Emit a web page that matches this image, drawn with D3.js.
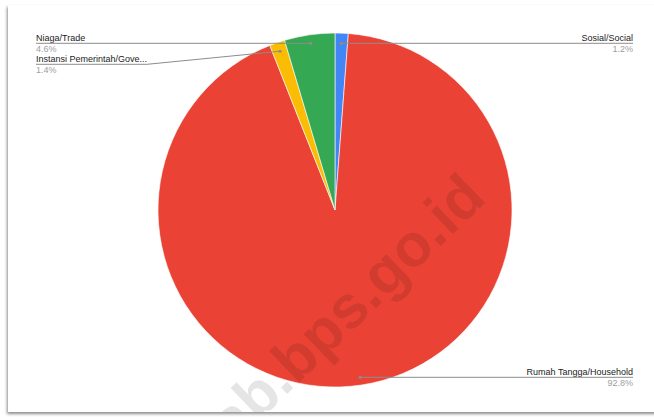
<!DOCTYPE html>
<html>
<head>
<meta charset="utf-8">
<script src="https://cdn.jsdelivr.net/npm/d3@7"></script>
<style>
  html, body { margin: 0; padding: 0; background: #fff; }
  svg { display: block; }
</style>
</head>
<body>
<div id="chart"></div>
<script>
// Données (ordre d'origine, sens horaire depuis midi)
const categories = ['Sosial/Social', 'Rumah Tangga/Household', 'Instansi Pemerintah/Gove...', 'Niaga/Trade'];
const values = [1.2, 92.8, 1.4, 4.6];
const valueLabels = ['1.2%', '92.8%', '1.4%', '4.6%'];
const colors = ['#4285f4', '#ea4335', '#fbbc04', '#34a853'];
// côté de la légende pour chaque part
const sides = ['right', 'right', 'left', 'left'];

const width = 654, height = 417;
const cx = 335, cy = 210, radius = 177;

const svg = d3.select('#chart').append('svg')
    .attr('width', width)
    .attr('height', height);

// Cadre avec ombre
const defs = svg.append('defs');
const shadow = defs.append('filter')
    .attr('id', 'shadow')
    .attr('x', '-5%').attr('y', '-5%')
    .attr('width', '110%').attr('height', '110%');
shadow.append('feDropShadow')
    .attr('dx', -1).attr('dy', 2)
    .attr('stdDeviation', 1.6)
    .attr('flood-color', '#000')
    .attr('flood-opacity', 0.45);

defs.append('clipPath').attr('id', 'frame-clip')
    .append('rect')
    .attr('x', 8).attr('y', 5)
    .attr('width', 660).attr('height', 407);

svg.append('rect')
    .attr('x', 8).attr('y', 5)
    .attr('width', 660).attr('height', 407)
    .attr('fill', '#fff')
    .attr('filter', 'url(#shadow)');

const inner = svg.append('g').attr('clip-path', 'url(#frame-clip)');

// Camembert
const pie = d3.pie().sort(null).value(d => d.value);
const arcs = pie(values.map((v, i) => ({ value: v, i })));
const arc = d3.arc().innerRadius(0).outerRadius(radius);
const dotArc = d3.arc().innerRadius(168).outerRadius(168);

const g = inner.append('g').attr('transform', `translate(${cx},${cy})`);
g.selectAll('path.slice')
    .data(arcs)
    .enter()
    .append('path')
    .attr('class', 'slice')
    .attr('d', arc)
    .attr('fill', d => colors[d.data.i])
    .attr('stroke', '#fff')
    .attr('stroke-width', 0.6);

// Filigrane (coupé volontairement par le cadre)
inner.append('text')
    .attr('transform', 'translate(488,200) rotate(-44)')
    .attr('text-anchor', 'end')
    .style('font-family', '"Liberation Sans", Arial, sans-serif')
    .style('font-weight', 'bold')
    .style('font-size', '60px')
    .attr('fill', '#000')
    .attr('fill-opacity', 0.1)
    .text('kab.bps.go.id');

// Étiquettes avec lignes de rappel
const labelLeftX = 36, labelRightX = 633;
const labelRows = [40.5, 374.5, 61.5, 40.5];
const lineGap = 2.8;

const labels = inner.append('g').attr('class', 'labels');
arcs.forEach(d => {
    const i = d.data.i;
    const [dx, dy] = dotArc.centroid(d);
    const px = cx + dx, py = cy + dy;
    const base = labelRows[i];
    const lineY = base + lineGap;
    const isLeft = sides[i] === 'left';
    const tx = isLeft ? labelLeftX : labelRightX;

    const nameText = labels.append('text')
        .attr('x', tx)
        .attr('y', base)
        .attr('text-anchor', isLeft ? 'start' : 'end')
        .style('font-family', '"Liberation Sans", Arial, sans-serif')
        .style('font-size', '9px')
        .attr('fill', '#222')
        .text(categories[i]);

    labels.append('text')
        .attr('x', tx)
        .attr('y', base + 11.5)
        .attr('text-anchor', isLeft ? 'start' : 'end')
        .style('font-family', '"Liberation Sans", Arial, sans-serif')
        .style('font-size', '9px')
        .attr('fill', '#9e9e9e')
        .text(valueLabels[i]);

    const textW = nameText.node().getComputedTextLength();
    let pts;
    if (isLeft) {
        const endX = labelLeftX + textW;
        pts = Math.abs(py - lineY) < 2
            ? [[labelLeftX, lineY], [px, lineY]]
            : [[labelLeftX, lineY], [endX, lineY], [px, py]];
    } else {
        pts = [[labelRightX, lineY], [px, lineY]];
    }
    labels.append('path')
        .attr('d', d3.line()(pts))
        .attr('fill', 'none')
        .attr('stroke', '#8c8c8c')
        .attr('stroke-width', 1);

    labels.append('circle')
        .attr('cx', px)
        .attr('cy', Math.abs(py - lineY) < 3 ? lineY : py)
        .attr('r', 1.6)
        .attr('fill', '#8c8c8c');
});
</script>
</body>
</html>
